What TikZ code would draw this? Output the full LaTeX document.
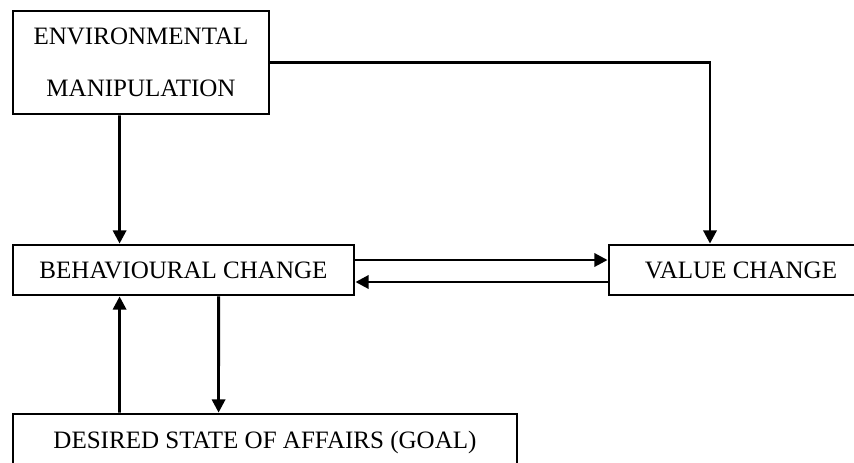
\documentclass[tikz,border=0pt]{standalone}
\usepackage{fontspec}
\setmainfont{Liberation Serif}
\usetikzlibrary{arrows.meta, positioning}

\begin{document}
\begin{tikzpicture}[
    x=0.025cm, y=-0.025cm,
    % Styles
    box/.style={rectangle, draw, line width=2pt, align=center, inner sep=0pt, font=\fontsize{17.8}{37}\selectfont},
    arrow/.style={-{Triangle[length=3.3mm, width=3.3mm]}, line width=2pt},
]
\useasboundingbox (0,0) rectangle (854,462);

% === BOXES ===
\node[box, minimum width=6.4cm, minimum height=2.575cm] (envman) at (141,62.5) {ENVIRONMENTAL\\MANIPULATION};
\node[box, minimum width=8.525cm, minimum height=1.25cm] (behav) at (183.5,270) {BEHAVIOURAL CHANGE};
\node[box, minimum width=6.6cm, minimum height=1.25cm] (value) at (741,270) {VALUE CHANGE};
\node[box, minimum width=12.6cm, minimum height=1.4cm] (goal) at (265,442) {DESIRED STATE OF AFFAIRS (GOAL)};

% === ARROWS ===
\draw[arrow] ([xshift=2.7cm]envman.south west) -- ([xshift=2.7cm]behav.north west);
\draw[arrow] (envman.east) -| ([xshift=-0.775cm]value.north);
\draw[arrow] ([yshift=0.25cm]behav.east) -- ([yshift=0.25cm]value.west);
\draw[arrow] ([yshift=-0.3cm]value.west) -- ([yshift=-0.3cm]behav.east);
\draw[arrow] ([xshift=2.7cm]goal.north west) -- ([xshift=2.7cm]behav.south west);
\draw[arrow] ([xshift=5.175cm]behav.south west) -- ([xshift=5.175cm]goal.north west);

\end{tikzpicture}
\end{document}
